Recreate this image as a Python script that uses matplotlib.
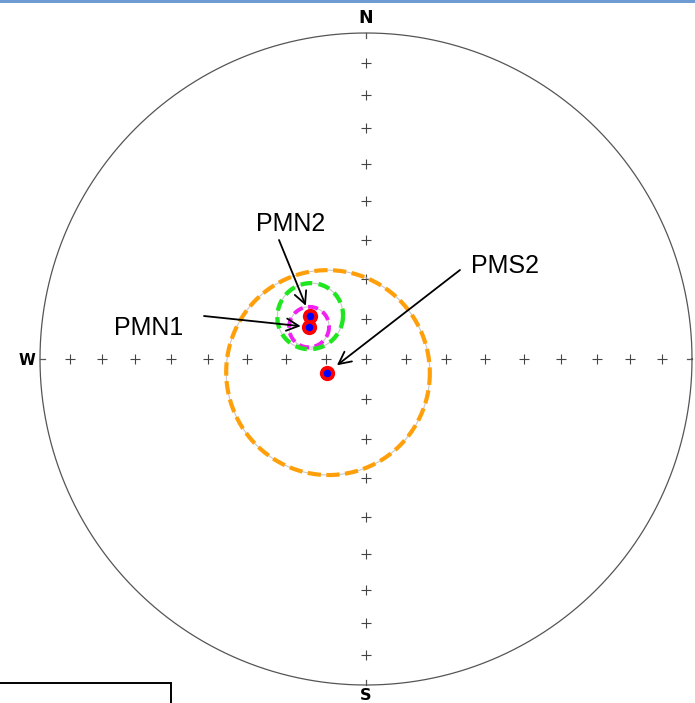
import numpy as np
import matplotlib
matplotlib.use("Agg")
from matplotlib import pyplot as plt
from matplotlib.patches import Rectangle

# mean directions: trend (deg), plunge (deg), cone radius a95 (deg)
nomes = ["PMN1", "PMN2", "PMS2"]
trends = [299.3, 307.5, 250.3]
plunges = [73.7, 72.4, 79.7]
a95 = [5.0, 8.2, 25.6]
coresCone = ["#f21ff2", "#1fe61f", "#ffa00a"]

# grid crosses every 10 degrees of plunge on N, E, S, W and the centre
gradePlunges = [10, 20, 30, 40, 50, 60, 70, 80]
gradeTrends = [0, 90, 180, 270]

W, H = 695, 703
cx, cy, R = 366, 359, 326


def projeta(trend, plunge):
    # equal area, lower hemisphere, unit primitive circle
    t = np.radians(trend)
    r = np.sqrt(2) * np.sin(np.radians(90 - np.asarray(plunge)) / 2)
    return r * np.sin(t), r * np.cos(t)


def vetor(trend, plunge):
    t, p = np.radians(trend), np.radians(plunge)
    return np.array([np.cos(p) * np.cos(t), np.cos(p) * np.sin(t), np.sin(p)])


def circuloPequeno(trend, plunge, alfa, n=360):
    v = vetor(trend, plunge)
    aux = np.array([0, 0, 1.0]) if abs(v[2]) < 0.9 else np.array([1.0, 0, 0])
    u1 = np.cross(v, aux)
    u1 /= np.linalg.norm(u1)
    u2 = np.cross(v, u1)
    phi = np.linspace(0, 2 * np.pi, n)
    a = np.radians(alfa)
    pts = (np.cos(a) * v[:, None] + np.sin(a) * (np.outer(u1, np.cos(phi)) + np.outer(u2, np.sin(phi))))
    tr = np.degrees(np.arctan2(pts[1], pts[0]))
    pl = np.degrees(np.arcsin(np.clip(pts[2], -1, 1)))
    return projeta(tr, pl)


def px(x, y):
    return (x - cx) / R, (cy - y) / R


fig = plt.figure(figsize=(W / 100, H / 100), dpi=100)
ax = fig.add_axes([0, 0, 1, 1])
ax.set_xlim(-cx / R, (W - cx) / R)
ax.set_ylim(-(H - cy) / R, cy / R)
ax.set_aspect("equal")
ax.axis("off")

# primitive circle
th = np.linspace(0, 2 * np.pi, 721)
ax.plot(np.cos(th), np.sin(th), color="#555555", lw=0.9)
for t in gradeTrends:
    x0, y0 = np.sin(np.radians(t)), np.cos(np.radians(t))
    ax.plot([x0 * 0.985, x0 * 1.0], [y0 * 0.985, y0 * 1.0], color="#555555", lw=0.9)

# crosses
for t in gradeTrends:
    gx, gy = projeta(t, np.array(gradePlunges))
    ax.plot(gx, gy, "+", color="#444444", ms=6.5, mew=0.8, ls="none")
ax.plot(0, 0, "+", color="#444444", ms=6.5, mew=0.8)

# labels of directions
ax.text(*px(366, 18), "N", ha="center", va="center", fontsize=12.5, fontweight="bold")
ax.text(*px(366, 695), "S", ha="center", va="center", fontsize=11.5, fontweight="bold")
ax.text(*px(27, 360), "W", ha="center", va="center", fontsize=11, fontweight="bold")

# cones
estilos = [(0, (2.6, 1.4)), (0, (2.7, 1.5)), (0, (3.2, 1.3))]
larguras = [2.8, 3.1, 3.0]
for i in range(len(nomes)):
    x, y = circuloPequeno(trends[i], plunges[i], a95[i])
    ax.plot(x, y, color="#c8c8c8", lw=0.8, zorder=3)
    ax.plot(x, y, color=coresCone[i], lw=larguras[i], ls=estilos[i], zorder=4)

# means
mx, my = projeta(np.array(trends), np.array(plunges))
ax.plot(mx, my, "o", color="#ff0000", ms=11, mew=0, ls="none", zorder=5)
ax.plot(mx, my, "o", color="#0000ff", ms=5.5, mew=0, ls="none", zorder=6)

# labels with arrows
inicios = [px(204, 316), px(279, 240), px(460, 270)]
textos = [px(149, 335), px(291, 231), px(505, 273)]
recuos = [6, 8, 9]
for i in range(len(nomes)):
    ax.annotate("", xy=(mx[i], my[i]), xytext=inicios[i],
                arrowprops=dict(arrowstyle="->", color="black", lw=1.3, mutation_scale=22,
                                shrinkA=0, shrinkB=recuos[i]), zorder=7)
    ax.text(textos[i][0], textos[i][1], nomes[i], ha="center", va="baseline",
            fontsize=18, family="Liberation Sans", zorder=8)

# frame bits of the page
fig.patches.append(Rectangle((0, 1 - 2.5 / H), 1, 2.5 / H, transform=fig.transFigure,
                             color="#6e9bd2", lw=0))
fig.patches.append(Rectangle((-5 / W, -10 / H), 176 / W, (H - 683 + 10) / H, transform=fig.transFigure,
                             fill=False, ec="black", lw=1.4))

fig.savefig("out.png", dpi=100)
